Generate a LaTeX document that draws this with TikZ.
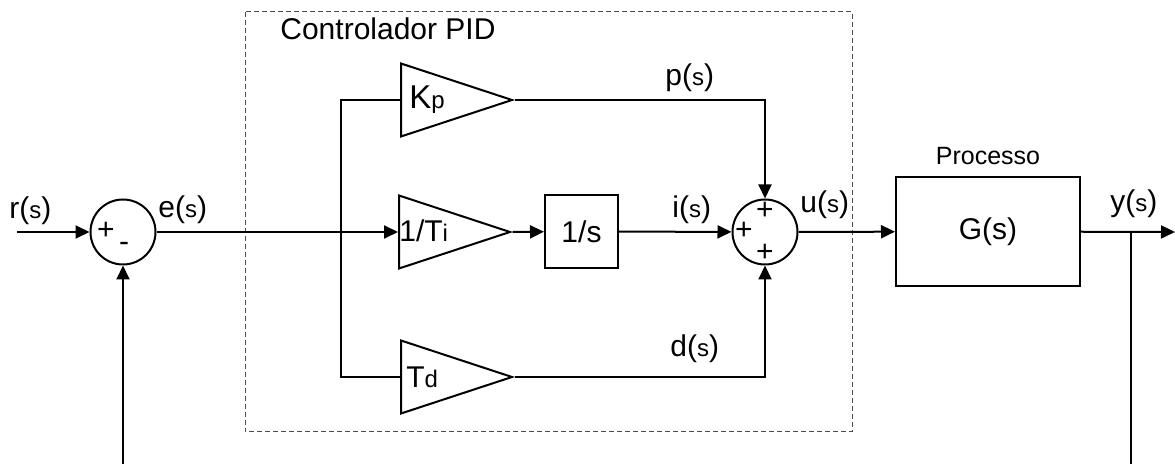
\documentclass[tikz,border=0pt]{standalone}
\usepackage{fontspec}
\setmainfont{Liberation Sans}
\usetikzlibrary{arrows.meta,positioning,shapes.geometric}
\newcommand{\sm}[1]{{\fontsize{12pt}{12pt}\selectfont #1}}

\begin{document}
\begin{tikzpicture}[
      x=0.5pt, y=-0.5pt,
      font=\fontsize{15pt}{18pt}\selectfont,
      sumnode/.style={draw, circle, line width=1pt, minimum size=32.5pt, inner sep=0pt},
      gain/.style={draw, isosceles triangle, isosceles triangle stretches, line width=1pt, minimum width=36.5pt, minimum height=55.5pt, inner sep=0pt, anchor=lower side},
      blk/.style={draw, rectangle, line width=1pt, inner sep=0pt},
      arr/.style={-{Triangle[length=7pt,width=6.5pt]}, line width=1pt},
      ln/.style={line width=1pt},
      sig/.style={anchor=base west, inner sep=0pt}
    ]
    \useasboundingbox (0,0) rectangle (1175,464);
    % controller frame
    \draw[dash pattern=on 2.5pt off 1.5pt, gray!60!black, line width=0.5pt] (245,12) rectangle (852,432);
    \node[sig] (pidlab) at (280,40) {Controlador PID};

    % summing points
    \node[sumnode] (s1) at (123,232) {};
    \node (s1p) at (106,231) {+};
    \node (s1m) at (124,247) {-};
    \node[sumnode] (s2) at (765,232) {};
    \node (s2a) at (765,211) {+};
    \node (s2b) at (744,231) {+};
    \node (s2c) at (765,253) {+};

    % gains and blocks
    \node[gain] (kp) at (400,100) {};
    \node[gain] (ti) at (398,232) {};
    \node[gain] (td) at (400,377) {};
    \node[sig] (kptxt) at (409,109) {{\fontsize{16.5pt}{18pt}\selectfont K}\sm{p}};
    \node[sig] (titxt) at (399,242) {1/T\sm{i}};
    \node[sig] (tdtxt) at (406,388) {T\sm{d}};
    \node[blk, minimum size=36.5pt] (integ) at (581.5,231.5) {1/s};
    \node[blk, minimum width=92pt, minimum height=54.5pt] (proc) at (988,231.5) {G(s)};
    \node[anchor=base, font=\fontsize{12.5pt}{15pt}\selectfont] (proclab) at (988,165) {Processo};

    % signal labels
    \node[sig] (rlab) at (9,219) {r(\sm{s})};
    \node[sig] (elab) at (158,218) {e(\sm{s})};
    \node[sig] (plab) at (665,86) {p(\sm{s})};
    \node[sig] (ilab) at (672,218) {i(\sm{s})};
    \node[sig] (dlab) at (670,357) {d(\sm{s})};
    \node[sig] (ulab) at (800,213) {u(\sm{s})};
    \node[sig] (ylab) at (1110,212) {y(\sm{s})};

    % free ends
    \coordinate (rin) at (17,232);
    \coordinate (br) at (341,232);
    \coordinate (yout) at (1175,232);
    \coordinate (ybr) at (1131,232);
    \coordinate (fbr) at (1131,464);
    \coordinate (fbl) at (123,464);

    % connections
    \draw[arr] (rin) -- (s1);
    \draw[arr] (s1) -- (ti.lower side);
    \draw[ln] (kp.lower side) -| (br) |- (td.lower side);
    \draw[arr] (ti.apex) -- (integ);
    \draw[arr] (integ) -- (s2);
    \draw[arr] (kp.apex) -| (s2);
    \draw[arr] (td.apex) -| (s2);
    \draw[arr] (s2) -- (proc);
    \draw[arr] (proc) -- (yout);
    \draw[ln] (ybr) -- (fbr);
    \draw[arr] (fbl) -- (s1);
  \end{tikzpicture}
\end{document}
